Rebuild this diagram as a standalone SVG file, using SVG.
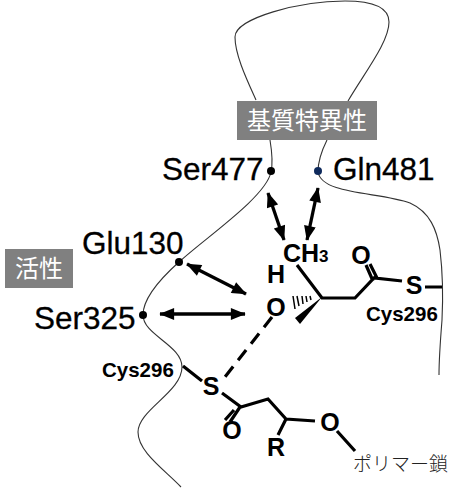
<svg xmlns="http://www.w3.org/2000/svg" width="454" height="489" viewBox="0 0 454 489">
<style>
.loop{fill:none;stroke:#333;stroke-width:1.1}
.bond{fill:none;stroke:#000;stroke-width:3.2}
.arrow{fill:none;stroke:#000;stroke-width:3.3;marker-start:url(#ah);marker-end:url(#ah)}
.big{font:31.5px "Liberation Sans",Arial,sans-serif;fill:#000;stroke:#000;stroke-width:.3}
.atom{font:bold 25px "Liberation Sans",Arial,sans-serif;fill:#000;text-anchor:middle}
.cys{font:bold 20.5px "Liberation Sans",Arial,sans-serif;fill:#000}
.jp{font:24px "Noto Sans CJK JP",sans-serif;fill:#fff;text-anchor:middle}
</style>
<defs>
<marker id="ah" viewBox="0 0 10 8" refX="9.5" refY="4" markerWidth="5" markerHeight="3.6" orient="auto-start-reverse"><path d="M0 0L10 4L0 8z" fill="#000"/></marker>
</defs>
<rect width="454" height="489" fill="#fff"/>
<g id="backbone">
<path class="loop" d="M256 100C247 80 235 55 235 37C235 18 300 1 345 1C375 1 389 8 389 22C389 42 365 72 348 101"/>
<path class="loop" d="M270 140C272 152 273 163 271 172C266 197 205 238 179 262C160 279 143 298 143 315C143 335 182 345 182 367C182 392 138 410 138 432C138 452 165 470 181 487"/>
<path class="loop" d="M327 140C322 150 318 160 318 172C322 195 380 192 410 203C430 212 437 230 440 250C443 275 443 300 442 320C440 345 439 360 439 375"/>
</g>
<g id="connectors">
<path class="arrow" d="M268 193L284 240"/>
<path class="arrow" d="M318 188L307 240"/>
<path class="arrow" d="M187 264L246 294"/>
<path class="arrow" d="M160 314L245 314"/>
<path class="bond" stroke-dasharray="13 8" d="M272 317L225 377"/>
</g>
<g id="molecule-top">
<path class="bond" d="M297 265L322 298L355 298L374 278L402 281M366 265L373 281M370 264L377 278M425 287L442 287"/>
<path d="M322 297L295 318L300 324Z" fill="#000"/>
<path d="M310 296L311 300M306 296L307 302M302 296L303 304M297 296L299 306M293 296L295 309" stroke="#000" stroke-width="1.5" fill="none"/>
<text class="atom" x="283" y="262" style="text-anchor:start">CH<tspan font-size="17">3</tspan></text>
<text class="atom" x="276" y="283">H</text>
<text class="atom" x="361" y="264">O</text>
<text class="atom" x="414" y="294">S</text>
<text class="atom" x="276" y="316">O</text>
<text class="cys" x="366" y="321">Cys296</text>
</g>
<g id="molecule-bottom">
<path class="bond" d="M183 366L202 381M222 393L241 407L268 399L286 419L315 421M337 431L355 451M286 419L278 435M240 407L230 422M234 410L225 420"/>
<text class="atom" x="211" y="395">S</text>
<text class="atom" x="232" y="439">O</text>
<text class="atom" x="330" y="431">O</text>
<text class="atom" x="276" y="456">R</text>
<text class="cys" x="102" y="377">Cys296</text>
<text x="353" y="471" font-family="'Noto Sans CJK JP',sans-serif" font-size="19" font-weight="300" fill="#222">ポリマー鎖</text>
</g>
<g id="residue-ser477"><circle cx="271" cy="171" r="4" fill="#000"/><text class="big" x="162" y="180">Ser477</text></g>
<g id="residue-gln481"><circle cx="318" cy="171" r="4" fill="#0f2a5c"/><text class="big" x="333" y="180">Gln481</text></g>
<g id="residue-glu130"><circle cx="179" cy="262" r="4" fill="#000"/><text class="big" x="82" y="254">Glu130</text></g>
<g id="residue-ser325"><circle cx="143" cy="315" r="4" fill="#000"/><text class="big" x="34" y="329">Ser325</text></g>
<g id="label-specificity"><rect x="237" y="101" width="140" height="39" fill="#808080"/><text class="jp" x="307" y="129">基質特異性</text></g>
<g id="label-activity"><rect x="5" y="249" width="68" height="39" fill="#808080"/><text class="jp" x="39" y="277">活性</text></g>
</svg>
